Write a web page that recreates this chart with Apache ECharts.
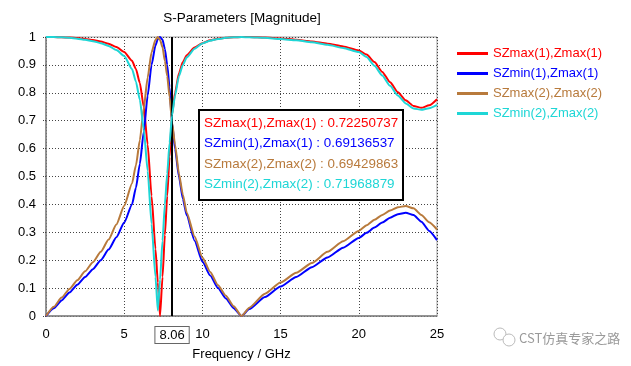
<!DOCTYPE html>
<html>
<head>
<meta charset="utf-8">
<script src="https://cdn.jsdelivr.net/npm/echarts@6/dist/echarts.min.js"></script>
<style>html,body{margin:0;padding:0;background:#fff;}#c{width:631px;height:366px;}</style>
</head>
<body>
<div id="c"></div>
<script>
var freq = [0,0.5,1,1.5,2,2.5,3,3.5,4,4.5,5,5.5,5.75,6,6.25,6.5,6.75,7,7.15,7.29,7.45,7.6,7.75,7.9,8.06,8.25,8.5,8.75,9,9.5,10,10.5,11,11.5,12,12.5,13,14,15,16,17,18,19,20,20.5,21,21.5,22,22.5,23,23.5,24,24.5,25];
var szmax1 = [1.000,1.000,0.999,0.998,0.996,0.993,0.989,0.984,0.976,0.964,0.946,0.915,0.885,0.835,0.75,0.615,0.43,0.24,0.12,0.0,0.14,0.29,0.43,0.57,0.7225,0.80,0.87,0.91,0.935,0.962,0.978,0.988,0.994,0.997,0.999,1.0,1.0,0.998,0.995,0.99,0.984,0.976,0.966,0.952,0.937,0.91,0.875,0.838,0.802,0.773,0.753,0.746,0.755,0.777];
var szmin1 = [0,0.028,0.056,0.084,0.112,0.14,0.168,0.2,0.238,0.282,0.335,0.40,0.46,0.545,0.66,0.79,0.90,0.97,0.993,1.0,0.99,0.957,0.90,0.82,0.6914,0.60,0.50,0.42,0.36,0.27,0.195,0.145,0.10,0.063,0.028,0.0,0.025,0.068,0.106,0.14,0.175,0.21,0.245,0.28,0.298,0.317,0.335,0.352,0.365,0.37,0.362,0.338,0.305,0.272];
var szmax2 = [0,0.033,0.066,0.097,0.128,0.16,0.193,0.23,0.274,0.328,0.395,0.475,0.54,0.63,0.745,0.855,0.945,0.99,1.0,0.99,0.963,0.915,0.86,0.785,0.6943,0.615,0.51,0.435,0.37,0.285,0.21,0.158,0.11,0.073,0.035,0.0,0.03,0.08,0.12,0.155,0.19,0.23,0.268,0.305,0.325,0.345,0.362,0.378,0.39,0.394,0.386,0.362,0.336,0.31];
var szmin2 = [1.000,1.000,0.999,0.997,0.994,0.990,0.985,0.978,0.968,0.953,0.932,0.885,0.84,0.775,0.67,0.52,0.33,0.14,0.02,0.13,0.27,0.40,0.51,0.62,0.7197,0.79,0.86,0.90,0.927,0.958,0.977,0.987,0.993,0.997,0.999,1.0,0.999,0.997,0.993,0.988,0.981,0.972,0.961,0.946,0.928,0.897,0.862,0.825,0.79,0.762,0.744,0.739,0.745,0.757];
var seriesNames = ['SZmax(1),Zmax(1)','SZmin(1),Zmax(1)','SZmax(2),Zmax(2)','SZmin(2),Zmax(2)'];
var seriesColors = ['#ff0000','#0000ff','#b87a3c','#1ed6d6'];
var markerFreq = 8.06;
var markerValues = ['0.72250737','0.69136537','0.69429863','0.71968879'];
var xTicks = [0,5,10,15,20,25];

var FONT = 'Liberation Sans';
var values = [szmax1, szmin1, szmax2, szmin2];
function pairs(v){ return freq.map(function(f,i){ return [f, v[i]]; }); }

var series = values.map(function(v, k){
  return {
    name: seriesNames[k], type: 'line', data: pairs(v), showSymbol: false,
    smooth: 0.2, smoothMonotone: 'x',
    lineStyle: {color: seriesColors[k], width: 2}, itemStyle: {color: seriesColors[k]},
    animation: false, z: 2 + k
  };
});
series.push({
  name: 'marker', type: 'line', data: [], z: 10, animation: false,
  markLine: {
    silent: true, symbol: 'none', animation: false,
    lineStyle: {color: '#000', width: 2, type: 'solid'},
    label: {show: true, position: 'start', distance: 11, formatter: String(markerFreq),
      color: '#000', fontFamily: FONT, fontSize: 13, backgroundColor: '#fff',
      borderColor: '#666', borderWidth: 1, padding: [2, 4, 1, 4]},
    data: [{xAxis: markerFreq}]
  }
});

var graphics = [
  {type: 'text', x: 242, y: 18, z: 100, style: {text: 'S-Parameters [Magnitude]', fill: '#000', font: '13.5px "' + FONT + '"', align: 'center', verticalAlign: 'middle'}}
];
graphics.push({type: 'rect', z: 100, shape: {x: 199, y: 110, width: 204, height: 90}, style: {fill: '#fff', stroke: '#000', lineWidth: 2}});
seriesNames.forEach(function(n, k){
  graphics.push({type: 'text', z: 101, x: 204, y: 123 + k * 20.5,
    style: {text: n + ' : ' + markerValues[k], fill: seriesColors[k], font: '13.4px "' + FONT + '"', verticalAlign: 'middle'}});
});
graphics.push({type: 'circle', z: 100, shape: {cx: 500, cy: 334, r: 6}, style: {fill: 'none', stroke: '#bbb', lineWidth: 1}});
graphics.push({type: 'circle', z: 100, shape: {cx: 509, cy: 340, r: 6}, style: {fill: '#fff', stroke: '#bbb', lineWidth: 1}});
graphics.push({type: 'text', z: 100, x: 519, y: 338, style: {text: 'CST仿真专家之路', fill: '#9a9a9a', font: '13px "Noto Sans CJK SC"', verticalAlign: 'middle'}});

var option = {
  animation: false,
  backgroundColor: '#fff',
  grid: {left: 46, right: 194, top: 37, bottom: 49, show: true, borderColor: '#a0a0a0', borderWidth: 1, backgroundColor: 'transparent'},
  legend: {
    orient: 'vertical', left: 452, top: 42, itemWidth: 31, itemHeight: 3, itemGap: 7, icon: 'rect',
    textStyle: {fontFamily: FONT, fontSize: 13},
    data: seriesNames.map(function(n, k){ return {name: n, textStyle: {color: seriesColors[k]}}; })
  },
  xAxis: {
    type: 'value', min: 0, max: 25, interval: 5,
    name: 'Frequency / GHz', nameLocation: 'middle', nameGap: 32,
    nameTextStyle: {color: '#000', fontFamily: FONT, fontSize: 13},
    axisLine: {show: true, lineStyle: {color: '#808080', width: 1.5}},
    axisTick: {show: false},
    axisLabel: {color: '#000', fontFamily: FONT, fontSize: 13, margin: 12,
      customValues: xTicks},
    splitLine: {show: true, lineStyle: {color: '#444', type: [1, 2], width: 1}}
  },
  yAxis: {
    type: 'value', min: 0, max: 1, interval: 0.1,
    axisLine: {show: true, lineStyle: {color: '#808080', width: 1.5}},
    axisTick: {show: true, length: 4, lineStyle: {color: '#444', type: [1, 1]}},
    axisLabel: {color: '#000', fontFamily: FONT, fontSize: 13, margin: 10},
    splitLine: {show: true, lineStyle: {color: '#444', type: [1, 2], width: 1}}
  },
  graphic: graphics,
  series: series
};
var chart = echarts.init(document.getElementById('c'), null, {renderer: 'canvas'});
chart.setOption(option);
</script>
</body>
</html>
